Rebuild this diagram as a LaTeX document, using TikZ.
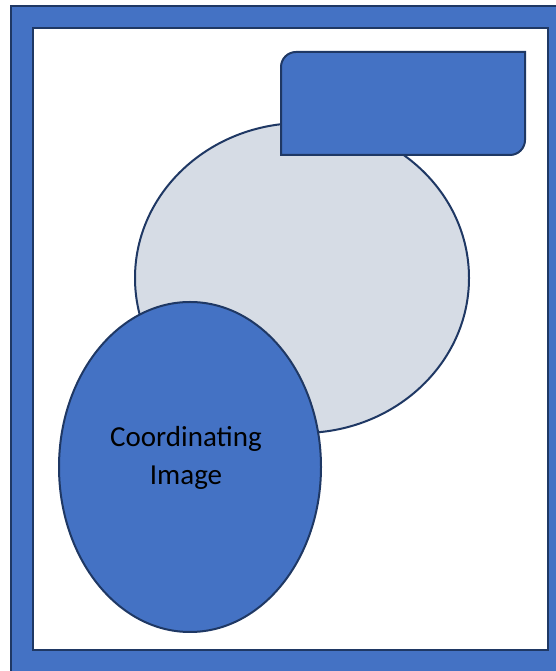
\documentclass[tikz,border=0pt]{standalone}
\usepackage{fontspec}
\setmainfont{Carlito}
\usetikzlibrary{shapes.geometric}
\definecolor{accent}{HTML}{4472C4}
\definecolor{edge}{HTML}{1F3864}
\definecolor{pale}{HTML}{D6DCE5}
\begin{document}
\begin{tikzpicture}
  [x=1pt,y=1pt,line width=2pt,
   frame/.style={draw=edge,line width=2.5pt},
   blob/.style={ellipse,draw=edge,inner sep=0pt},
   lbl/.style={align=center,font=\fontsize{29}{38}\selectfont}]
  \useasboundingbox (0,0) rectangle (556,671);
  \clip (0,0) rectangle (556,671);
  % page frame
  \draw[frame,fill=accent] (11,-10) rectangle (570,665);
  \draw[frame,fill=white] (33,21) rectangle (548,643);

  \node[blob,fill=pale,minimum width=334pt,minimum height=310pt] (photo) at (302,393) {};
  \draw[draw=edge,fill=accent] (281,516) -- (281,604) arc(180:90:15)
    -- (525,619) -- (525,531) arc(0:-90:15) -- cycle;
  \node[blob,fill=accent,minimum width=262pt,minimum height=330pt] (coord) at (190,204) {};
  \node[lbl] (coordtxt) at (186,213) {Coordinating\\Image};
\end{tikzpicture}
\end{document}
